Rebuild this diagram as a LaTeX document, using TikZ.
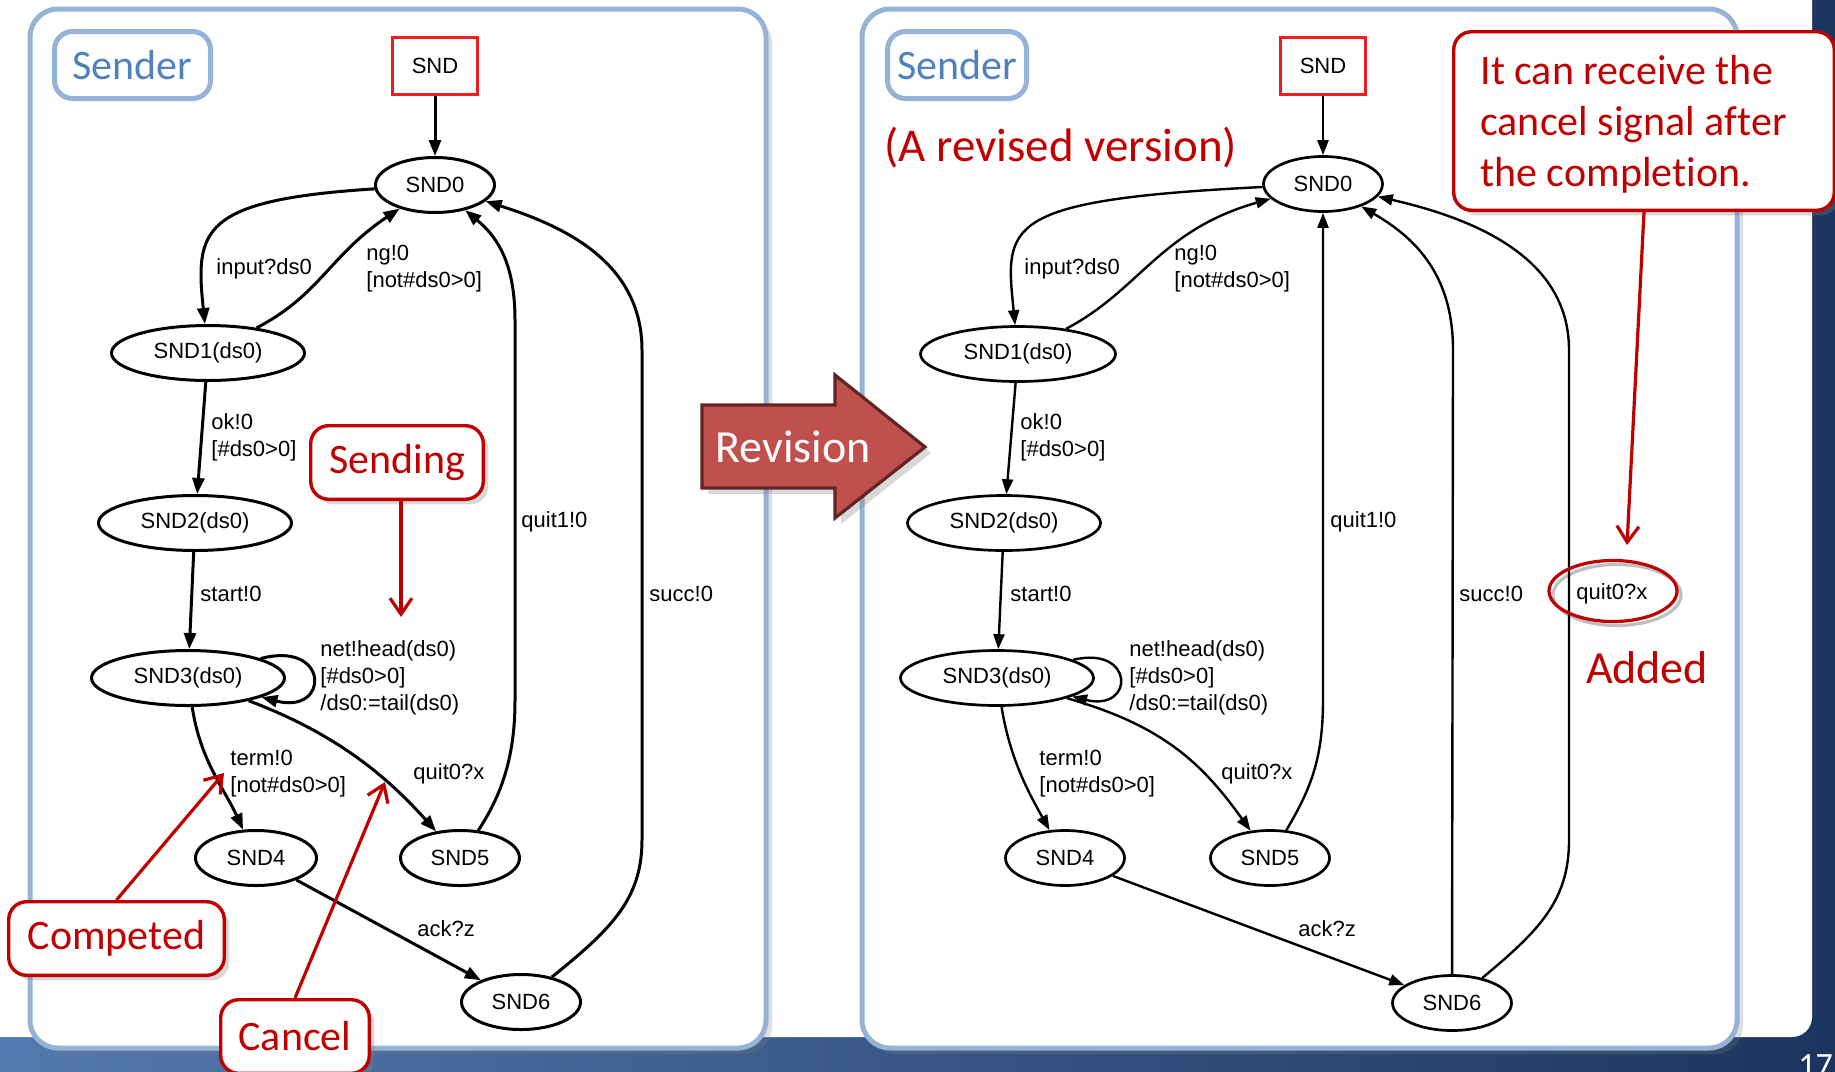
\documentclass[tikz,border=0pt]{standalone}
\usepackage{fontspec}
\setmainfont{Liberation Sans}
\newfontfamily\calibri{Carlito}[Ligatures=NoCommon]
\usetikzlibrary{shapes.geometric,arrows.meta,shadows}

\definecolor{panelblue}{HTML}{95B3D7}
\definecolor{titleblue}{HTML}{4F81BD}
\definecolor{notered}{HTML}{C00000}
\definecolor{initred}{HTML}{F01E1E}
\definecolor{revfill}{HTML}{C0504D}
\definecolor{revline}{HTML}{632523}
\definecolor{slideleft}{HTML}{5479AE}
\definecolor{slideright}{HTML}{1C355E}

\newcommand\graphfont{\fontsize{11}{13.5}\selectfont}
\newcommand\notefont{\calibri\fontsize{21}{25.5}\selectfont}

\begin{document}
\begin{tikzpicture}[x=0.5pt,y=-0.5pt,
  state/.style={ellipse, draw, line width=1.5pt, inner sep=0pt,
    minimum height=27.5pt, font=\graphfont},
  narrow/.style={state, minimum width=59.5pt},
  wide/.style={state, minimum width=96.5pt},
  thinstate/.style={line width=1.35pt},
  initbox/.style={draw=initred, line width=1.3pt, minimum width=42.5pt,
    minimum height=28.5pt, inner sep=0pt, font=\graphfont},
  trans/.style={line width=1.5pt, -{Triangle[length=8pt,width=6pt]}},
  transB/.style={line width=1.2pt, -{Triangle[length=7.5pt,width=5.5pt]}},
  lbl/.style={anchor=west, align=left, inner sep=0pt, font=\graphfont},
  panel/.style={draw=panelblue, line width=2.5pt, fill=white,
    rounded corners=14pt,
    drop shadow={shadow xshift=3pt, shadow yshift=-3pt, opacity=0.25}},
  senderbox/.style={draw=panelblue, line width=2.5pt, rounded corners=9pt,
    fill=white, text=titleblue, inner sep=0pt, minimum height=33.5pt,
    font=\calibri\fontsize{21}{24}\selectfont},
  notebox/.style={draw=notered, line width=1.7pt, fill=white,
    rounded corners=9pt, text=notered, font=\notefont, inner sep=0pt,
    minimum height=36.8pt,
    drop shadow={shadow xshift=2.5pt, shadow yshift=-2.5pt, opacity=0.3}},
  notetext/.style={text=notered, inner sep=0pt},
  notearrow/.style={draw=notered, line width=1.6pt,
    -{Straight Barb[length=8pt,width=11pt]}},
]
\useasboundingbox (0,0) rectangle (1835,1071);

% slide background
\shade[left color=slideleft, right color=slideright] (0,0) rectangle (1835,1071);
\fill[white, rounded corners=10pt] (-60,-60) rectangle (1812,1037);
\node[anchor=north west, inner sep=0pt, text=white,
  font=\calibri\fontsize{17}{20}\selectfont] (pagenum) at (1798,1054) {17};

% the two panels
\path[panel] (30,9) rectangle (766,1048);
\path[panel] (862,9) rectangle (1737,1048);

% ---------------- original sender ----------------
\node[senderbox, minimum width=78pt] (senderA) at (132.5,65) {Sender};
\node[initbox] (sndA) at (435,66) {SND};
\node[narrow] (l0) at (435,185) {SND0};
\node[wide] (l1) at (208,353) {SND1(ds0)};
\node[wide] (l2) at (195,523) {SND2(ds0)};
\node[wide] (l3) at (188,678) {SND3(ds0)};
\node[narrow, minimum width=60.5pt] (l4) at (256,858) {SND4};
\node[narrow] (l5) at (460,858) {SND5};
\node[narrow] (l6) at (521,1002) {SND6};

\draw[trans] (sndA) -- (l0);
\draw[trans] (l0) .. controls (200,200) and (195,230) .. (l1);
\draw[trans] (l1) .. controls (320,295) and (330,255) .. (l0);
\draw[trans] (l1) -- (l2);
\draw[trans] (l2) -- (l3);
\draw[trans] (l3) .. controls (330,640) and (330,715) .. (l3);
\draw[trans] (l3) .. controls (200,760) and (225,790) .. (l4);
\draw[trans] (l3) .. controls (340,735) and (390,780) .. (l5);
\draw[trans] (l5) .. controls (505,790) and (515,750) .. (515,700)
  -- (515,320) .. controls (515,260) and (495,235) .. (l0);
\draw[trans] (l6) .. controls (610,930) and (642,900) .. (642,840)
  -- (642,350) .. controls (642,260) and (560,225) .. (l0);
\draw[trans] (l4) -- (l6);

\node[lbl] (lin) at (216,269) {input?ds0};
\node[lbl] (lng) at (366,268.5) {ng!0\\{}[not\#ds0>0]};
\node[lbl] (lok) at (211,437.5) {ok!0\\{}[\#ds0>0]};
\node[lbl] (lstart) at (200,594) {start!0};
\node[lbl] (lnet) at (320,678) {net!head(ds0)\\{}[\#ds0>0]\\/ds0:=tail(ds0)};
\node[lbl] (lterm) at (230,774) {term!0\\{}[not\#ds0>0]};
\node[lbl] (lquit0) at (413,774) {quit0?x};
\node[lbl] (lquit1) at (521,522) {quit1!0};
\node[lbl] (lsucc) at (649,594) {succ!0};
\node[lbl] (lack) at (417,929) {ack?z};

% ---------------- revised sender ----------------
\node[senderbox, minimum width=69.5pt] (senderB) at (957,65) {Sender};
\node[anchor=west, notetext, font=\calibri\fontsize{23.5}{27}\selectfont]
  (revised) at (884,148) {(A revised version)};
\node[initbox] (sndB) at (1323,66) {SND};
\node[narrow, thinstate] (r0) at (1323,184) {SND0};
\node[wide, thinstate, minimum width=97.5pt] (r1) at (1018,354) {SND1(ds0)};
\node[wide, thinstate] (r2) at (1004,523) {SND2(ds0)};
\node[wide, thinstate] (r3) at (997,678) {SND3(ds0)};
\node[narrow, thinstate] (r4) at (1065,858) {SND4};
\node[narrow, thinstate] (r5) at (1270,858) {SND5};
\node[narrow, thinstate] (r6) at (1452,1003) {SND6};

\draw[transB] (sndB) -- (r0);
\draw[transB] (r0) .. controls (1000,200) and (1005,225) .. (r1);
\draw[transB] (r1) .. controls (1140,290) and (1160,230) .. (r0);
\draw[transB] (r1) -- (r2);
\draw[transB] (r2) -- (r3);
\draw[transB] (r3) .. controls (1135,645) and (1135,712) .. (r3);
\draw[transB] (r3) .. controls (1010,760) and (1030,795) .. (r4);
\draw[transB] (r3) .. controls (1160,725) and (1200,760) .. (r5);
\draw[transB] (r5) .. controls (1310,790) and (1323,760) .. (1323,700) -- (r0);
\draw[transB] (r6) -- (1453,350) .. controls (1453,270) and (1410,235) .. (r0);
\draw[transB] (r6) .. controls (1540,930) and (1569,900) .. (1569,840)
  -- (1569,350) .. controls (1569,260) and (1480,220) .. (r0);
\draw[transB] (r4) -- (r6);

\node[lbl] (rin) at (1024,269) {input?ds0};
\node[lbl] (rng) at (1174,268.5) {ng!0\\{}[not\#ds0>0]};
\node[lbl] (rok) at (1020,437.5) {ok!0\\{}[\#ds0>0]};
\node[lbl] (rstart) at (1010,594) {start!0};
\node[lbl] (rnet) at (1129,678) {net!head(ds0)\\{}[\#ds0>0]\\/ds0:=tail(ds0)};
\node[lbl] (rterm) at (1039,774) {term!0\\{}[not\#ds0>0]};
\node[lbl] (rquit0) at (1221,774) {quit0?x};
\node[lbl] (rquit1) at (1330,522) {quit1!0};
\node[lbl] (rsucc) at (1459,594) {succ!0};
\node[lbl] (rnew) at (1576,594) {quit0?x};
\node[lbl] (rack) at (1298,929) {ack?z};

% ---------------- revision arrow ----------------
\path[fill=revfill, draw=revline, line width=1.6pt, line join=miter,
  drop shadow={shadow xshift=3pt, shadow yshift=-3pt, opacity=0.3}]
  (702,405) -- (835,405) -- (835,375) -- (925,447) -- (835,518)
  -- (835,488) -- (702,488) -- cycle;
\node[text=white, inner sep=0pt, font=\calibri\fontsize{23}{27}\selectfont]
  (revision) at (793,447) {Revision};

% ---------------- annotations ----------------
\node[notebox, minimum width=86.3pt] (sending) at (397,462.5) {Sending};
\coordinate (sendtip) at (401,617);
\draw[notearrow] (sendtip |- sending.south) -- (sendtip);

\node[notebox, minimum width=107.8pt] (competed) at (116.5,938.5) {Competed};
\coordinate (comptip) at (224,773);
\draw[notearrow] (competed.north) -- (comptip);

\node[notebox, minimum width=74.3pt] (cancel) at (295,1036.5) {Cancel};
\coordinate (canceltip) at (385,782);
\draw[notearrow] (cancel.north) -- (canceltip);

\node[notebox, minimum width=190.3pt, minimum height=89.3pt] (callout)
  at (1644,121) {};
\node[notetext, anchor=west, align=left, font=\notefont] (callouttext)
  at (1480,124) {It can receive the\\cancel signal after\\the completion.};
\node[ellipse, draw=notered, line width=1.6pt, minimum width=64pt,
  minimum height=30.5pt, inner sep=0pt,
  drop shadow={shadow xshift=2pt, shadow yshift=-2pt, opacity=0.25,
    fill=none, draw=black}] (addedring) at (1613,591) {};
\coordinate (addtip) at (1627,545);
\draw[notearrow] (callout.south) -- (addtip);
\node[notetext, font=\calibri\fontsize{23}{27}\selectfont] (added)
  at (1647,667.5) {Added};

\end{tikzpicture}
\end{document}
